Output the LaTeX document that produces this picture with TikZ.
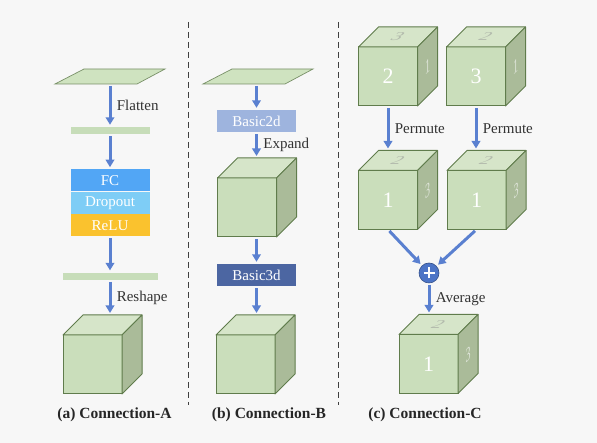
\documentclass[tikz,border=0pt]{standalone}
\usepackage{fontspec}
\setmainfont{Liberation Serif}
\usetikzlibrary{arrows.meta,positioning}
\definecolor{bg}{RGB}{247,247,247}
\definecolor{facefront}{RGB}{202,222,187}
\definecolor{facetop}{RGB}{214,229,201}
\definecolor{faceside}{RGB}{170,187,153}
\definecolor{edge}{RGB}{96,124,76}
\definecolor{flowblue}{RGB}{90,128,208}
\definecolor{fcblue}{RGB}{82,166,245}
\definecolor{dropblue}{RGB}{126,205,246}
\definecolor{reluyel}{RGB}{250,194,46}
\definecolor{basictwo}{RGB}{158,180,222}
\definecolor{basicthree}{RGB}{76,102,162}
\definecolor{platecol}{RGB}{207,227,192}
\definecolor{barcol}{RGB}{199,221,185}
\definecolor{topnum}{RGB}{178,186,172}
\definecolor{sidenum}{RGB}{222,228,216}
\definecolor{sumblue}{RGB}{76,116,198}
\newcommand{\cubefaces}[1]{%
  \draw[face,fill=facetop] (#1.north west) -- ++(20,20) -- ([shift={(20,20)}]#1.north east) -- (#1.north east) -- cycle;
  \draw[face,fill=faceside] (#1.north east) -- ++(20,20) -- ([shift={(20,20)}]#1.south east) -- (#1.south east) -- cycle;
  \coordinate (#1-top) at ([yshift=20pt]#1.north);}
\newcommand{\cubenums}[3]{%
  \begin{scope}[shift={([shift={(10,10)}]#1.north)},cm={1,0,0.6,0.6,(0,0)}]
    \node[facenum,text=topnum] (#1-n1) {#2};
  \end{scope}
  \begin{scope}[shift={([shift={(10,10)}]#1.east)},cm={0.5,0.5,0,1,(0,0)}]
    \node[facenum,text=sidenum] (#1-n2) {#3};
  \end{scope}}

\begin{document}
\begin{tikzpicture}[x=1pt,y=1pt,
  flow/.style={draw=flowblue,line width=3pt,shorten <=2pt,shorten >=2pt,-{Triangle[length=7.5pt,width=8.5pt]}},
  cube/.style={draw=edge,fill=facefront,line width=1pt,outer sep=0pt,inner sep=0pt,
    minimum width=59pt,minimum height=59pt,text=white,font=\fontsize{22}{22}\selectfont},
  face/.style={draw=edge,line width=1pt,line join=round},
  facenum/.style={transform shape,inner sep=0pt,font=\fontsize{20}{20}\selectfont},
  plate/.style={fill=platecol,draw=edge!85,line width=0.7pt},
  bar/.style={fill=barcol,minimum width=#1,minimum height=7pt,inner sep=0pt},
  layer/.style={minimum width=79pt,minimum height=22pt,inner sep=0pt,text=white,
    font=\fontsize{15}{15}\selectfont},
  lbl/.style={font=\fontsize{15}{15}\selectfont,text=black!80,xshift=2pt},
  captext/.style={font=\bfseries\fontsize{15.5}{15.5}\selectfont,text=black!85},
  divider/.style={draw=black!75,line width=1pt,dash pattern=on 6pt off 4pt},
  sum/.style={circle,fill=sumblue,draw=sumblue!70!black,line width=0.6pt,minimum size=20pt,
    inner sep=0pt,path picture={\draw[white,line width=1.2pt]
      ([xshift=-5.5pt]path picture bounding box.center) -- ([xshift=5.5pt]path picture bounding box.center)
      ([yshift=-5.5pt]path picture bounding box.center) -- ([yshift=5.5pt]path picture bounding box.center);}}]
  \fill[bg] (0,0) rectangle (597,443);
  \useasboundingbox (0,0) rectangle (597,443);

  % (a) connection A
  \draw[plate] (55,359) -- (137,359) -- (165,374) -- (84,374) -- cycle;
  \coordinate (inA) at (110,359);
  \node[bar=79pt] (barA1) at (110,312.5) {};
  \node[layer,fill=fcblue,below=35pt of barA1] (fc) {FC};
  \node[layer,fill=dropblue,below=0pt of fc] (drop) {Dropout};
  \node[layer,fill=reluyel,below=0pt of drop] (relu) {ReLU};
  \node[bar=95pt,below=36pt of relu] (barA2) {};
  \node[cube] (cA) at (92.5,78.5) {};
  \cubefaces{cA}
  \draw[flow] (inA) -- (barA1.north) node[midway,right,lbl] {Flatten};
  \draw[flow] (barA1.south) -- (fc.north);
  \draw[flow] (relu.south) -- (barA2.north);
  \draw[flow] (barA2.south) -- (barA2.south |- cA-top) node[midway,right,lbl] {Reshape};

  % (b) connection B
  \draw[plate] (203,359) -- (285,359) -- (313,374) -- (232,374) -- cycle;
  \coordinate (inB) at (256.5,359);
  \node[layer,fill=basictwo] (b2d) at (256.5,322) {Basic2d};
  \node[cube] (cB1) at (247,235.5) {};
  \cubefaces{cB1}
  \node[layer,fill=basicthree] (b3d) at (256.5,168) {Basic3d};
  \node[cube] (cB2) at (245.5,78.5) {};
  \cubefaces{cB2}
  \draw[flow] (inB) -- (b2d.north);
  \draw[flow] (b2d.south) -- (b2d.south |- cB1-top) node[midway,right,lbl] {Expand};
  \draw[flow] (b3d.north |- cB1.south) -- (b3d.north);
  \draw[flow] (b3d.south) -- (b3d.south |- cB2-top);

  % (c) connection C
  \node[cube] (cC1) at (388,366.5) {2};
  \cubefaces{cC1}
  \cubenums{cC1}{3}{1}
  \node[cube] (cC2) at (476,366.5) {3};
  \cubefaces{cC2}
  \cubenums{cC2}{2}{1}
  \node[cube] (cC3) at (388,243) {1};
  \cubefaces{cC3}
  \cubenums{cC3}{2}{3}
  \node[cube] (cC4) at (476.5,243) {1};
  \cubefaces{cC4}
  \cubenums{cC4}{2}{3}
  \node[sum] (add) at (429,170) {};
  \node[cube] (cC5) at (428.5,79) {1};
  \cubefaces{cC5}
  \cubenums{cC5}{2}{3}
  \draw[flow] (cC1.south) -- (cC1.south |- cC3-top) node[midway,right,lbl] {Permute};
  \draw[flow] (cC2.south) -- (cC2.south |- cC4-top) node[midway,right,lbl] {Permute};
  \draw[flow] (cC3.south) -- (add);
  \draw[flow] (cC4.south) -- (add);
  \draw[flow] (add.south) -- (add.south |- cC5-top) node[midway,right,lbl] {Average};

  % dividers and captions
  \draw[divider] (188,421) -- (188,38);
  \draw[divider] (338,421) -- (338,38);
  \node[captext] (capA) at (114.5,28) {(a) Connection-A};
  \node[captext] (capB) at (269,28) {(b) Connection-B};
  \node[captext] (capC) at (425,28) {(c) Connection-C};
\end{tikzpicture}
\end{document}
